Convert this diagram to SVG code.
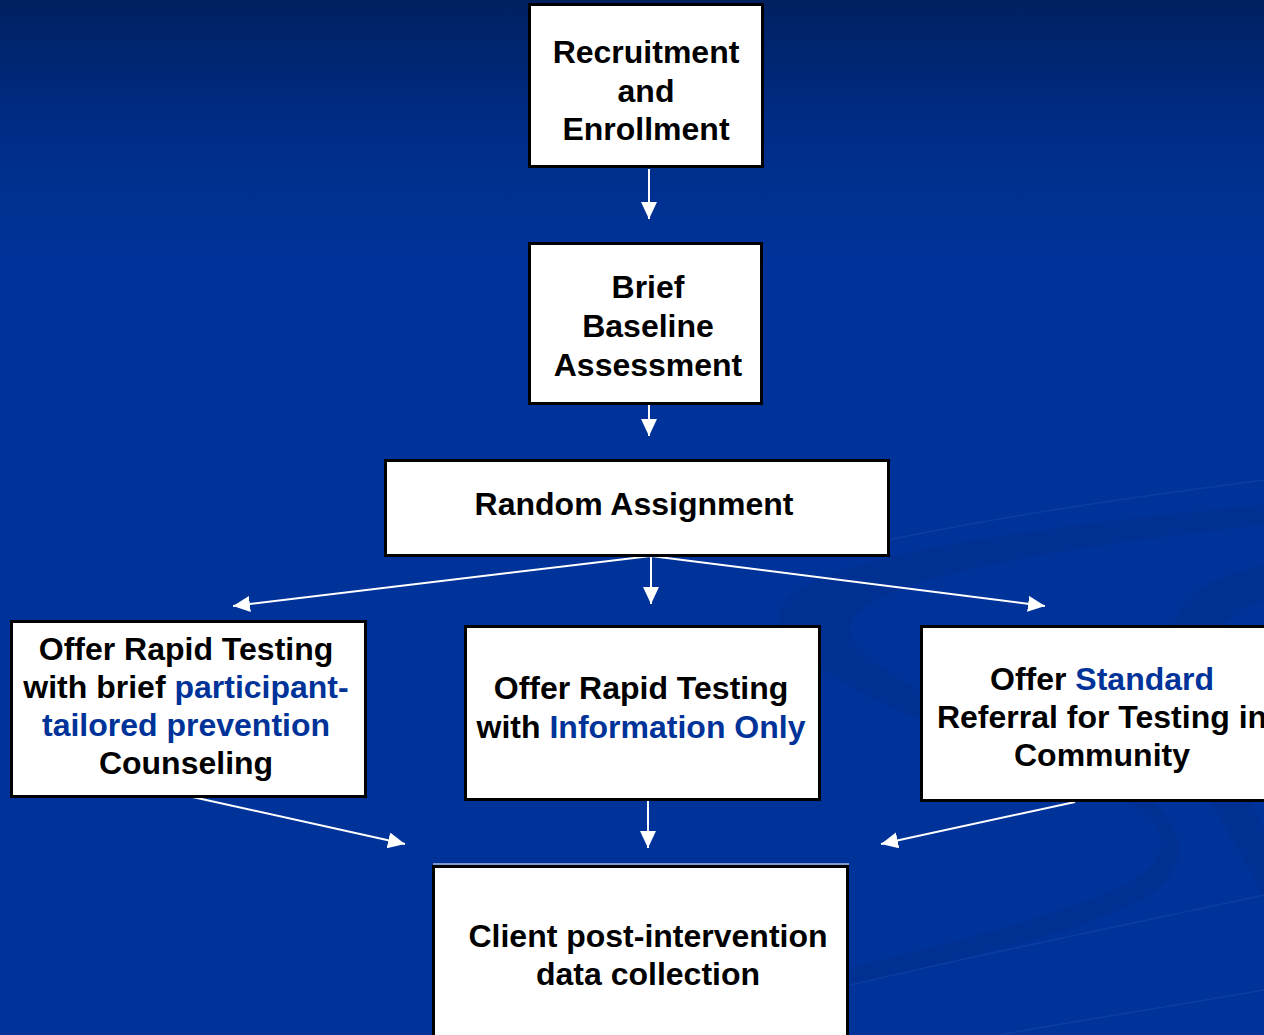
<svg xmlns="http://www.w3.org/2000/svg" width="1264" height="1035" viewBox="0 0 1264 1035">
<defs>
<linearGradient id="bg" x1="0" y1="0" x2="0" y2="1035" gradientUnits="userSpaceOnUse">
<stop offset="0" stop-color="#002060"/>
<stop offset="0.12" stop-color="#002C86"/>
<stop offset="0.25" stop-color="#003399"/>
<stop offset="1" stop-color="#003399"/>
</linearGradient>
<marker id="ah" markerUnits="userSpaceOnUse" markerWidth="20" markerHeight="18" refX="17" refY="8" orient="auto">
<path d="M0,0 L17,8 L0,16 z" fill="#ffffff"/>
</marker>
<style>
.box{fill:#ffffff;stroke:#000000;stroke-width:3}
.t{font-family:"Liberation Sans",Arial,Helvetica,sans-serif;font-weight:bold;font-size:32px;fill:#000000;text-anchor:middle}
.b{fill:#003399}
.c{stroke:#ffffff;stroke-width:2;fill:none;marker-end:url(#ah)}
.sw{fill:#002d8a;opacity:0.45}
.sl{fill:none;stroke:#1a4aa8;stroke-width:1.5;opacity:0.45}
</style>
</defs>
<rect x="0" y="0" width="1264" height="1035" fill="url(#bg)"/>
<g id="background-swooshes">
<path class="sw" d="M780,610 C800,560 1000,530 1264,505 L1264,525 C1050,548 880,578 852,620 C835,650 920,700 1080,760 C1190,805 1200,860 1150,895 C1080,935 950,960 850,985 L850,968 C960,940 1110,905 1150,868 C1180,835 1150,800 1060,772 C900,718 770,660 780,610 z"/>
<path class="sw" d="M1170,640 C1175,595 1215,575 1264,565 L1264,600 C1228,612 1205,640 1207,680 C1210,740 1250,790 1264,830 L1264,900 C1235,830 1165,760 1170,640 z"/>
<path class="sl" d="M850,548 C1000,515 1150,495 1264,480"/>
<path class="sl" d="M850,985 C1000,950 1150,920 1264,895"/>
<path class="sl" d="M1264,990 C1150,1010 1050,1025 1000,1035"/>
</g>
<g id="connectors">
<line class="c" x1="649" y1="169" x2="649" y2="219"/>
<line class="c" x1="649" y1="405" x2="649" y2="436"/>
<line class="c" x1="651" y1="556" x2="233" y2="606"/>
<line class="c" x1="651" y1="556" x2="651" y2="604"/>
<line class="c" x1="651" y1="556" x2="1045" y2="606"/>
<line class="c" x1="188" y1="796" x2="405" y2="844"/>
<line class="c" x1="648" y1="800" x2="648" y2="848"/>
<line class="c" x1="1075" y1="802" x2="881" y2="844"/>
</g>
<g id="recruitment">
<rect class="box" x="529.5" y="4.5" width="233" height="162"/>
<text class="t" x="646" y="63">Recruitment</text>
<text class="t" x="646" y="102">and</text>
<text class="t" x="646" y="140">Enrollment</text>
</g>
<g id="baseline">
<rect class="box" x="529.5" y="243.5" width="232" height="160"/>
<text class="t" x="648" y="298">Brief</text>
<text class="t" x="648" y="337">Baseline</text>
<text class="t" x="648" y="376">Assessment</text>
</g>
<g id="random">
<rect class="box" x="385.5" y="460.5" width="503" height="95"/>
<text class="t" x="634" y="515">Random Assignment</text>
</g>
<g id="arm-counseling">
<rect class="box" x="11.5" y="621.5" width="354" height="175"/>
<text class="t" x="186" y="660">Offer Rapid Testing</text>
<text class="t" x="186" y="698">with brief <tspan class="b">participant-</tspan></text>
<text class="t b" x="186" y="736">tailored prevention</text>
<text class="t" x="186" y="774">Counseling</text>
</g>
<g id="arm-information">
<rect class="box" x="465.5" y="626.5" width="354" height="173"/>
<text class="t" x="641" y="699">Offer Rapid Testing</text>
<text class="t" x="641" y="738">with <tspan class="b">Information Only</tspan></text>
</g>
<g id="arm-referral">
<rect class="box" x="921.5" y="626.5" width="350" height="174"/>
<text class="t" x="1102" y="690">Offer <tspan class="b">Standard</tspan></text>
<text class="t" x="1102" y="728">Referral for Testing in</text>
<text class="t" x="1102" y="766">Community</text>
</g>
<g id="data-collection">
<line x1="433" y1="864" x2="849" y2="864" stroke="#ffffff" stroke-width="1"/>
<rect class="box" x="433.5" y="866.5" width="414" height="180"/>
<text class="t" x="648" y="947">Client post-intervention</text>
<text class="t" x="648" y="985">data collection</text>
</g>
</svg>
